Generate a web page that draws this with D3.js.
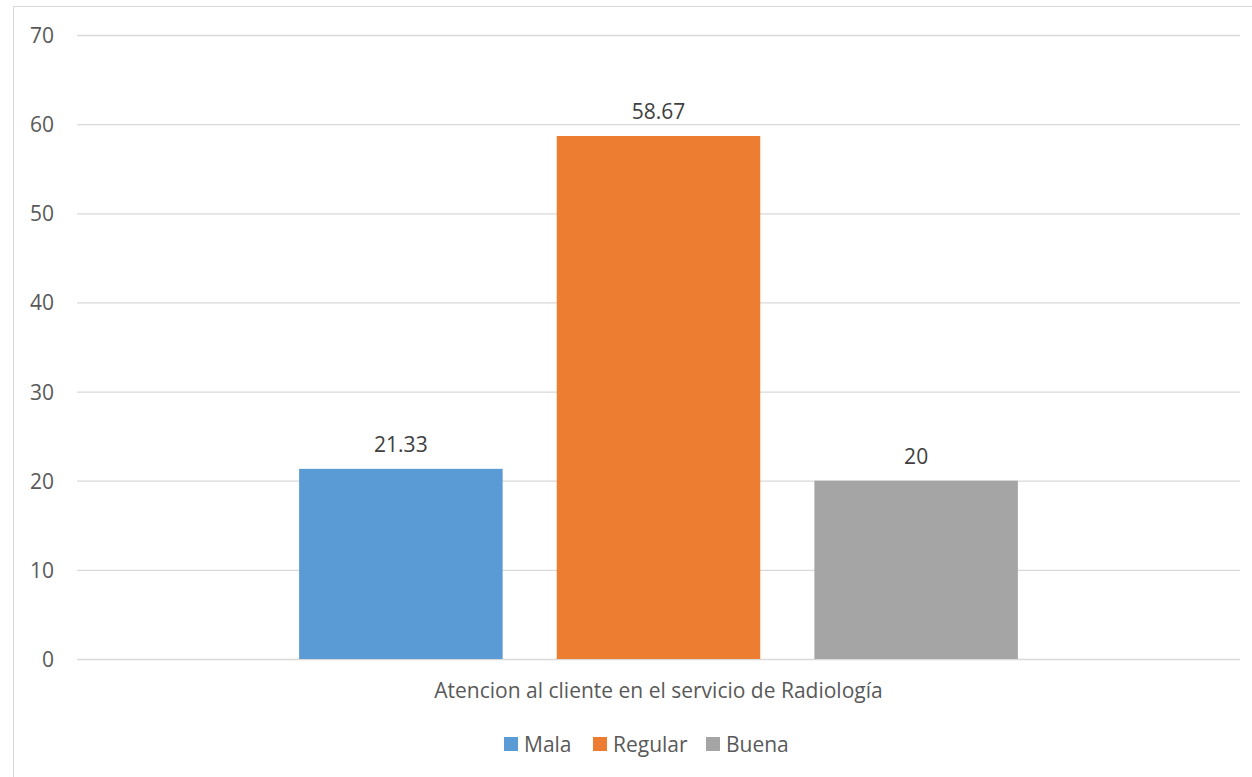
<!DOCTYPE html>
<html>
<head>
<meta charset="utf-8">
<script src="https://cdnjs.cloudflare.com/ajax/libs/d3/7.8.5/d3.min.js"></script>
<style>
  html, body { margin: 0; padding: 0; background: #fff; }
  svg { display: block; }
  text { font-family: "Open Sans", "Liberation Sans", sans-serif; }
</style>
</head>
<body>
<svg id="chart" width="1252" height="777"></svg>
<script>
// Chart data
const category = "Atencion al cliente en el servicio de Radiología";
const seriesNames = ["Mala", "Regular", "Buena"];
const seriesValues = [21.33, 58.67, 20];
const seriesLabels = ["21.33", "58.67", "20"];
const seriesColors = ["#5b9bd5", "#ed7d31", "#a5a5a5"];
const yTicks = [0, 10, 20, 30, 40, 50, 60, 70];

const svg = d3.select("#chart");
const W = 1252, H = 777;
const plot = { left: 77, right: 1240, top: 35, bottom: 659 };
const fontSize = 21;

// chart frame
svg.append("rect")
  .attr("x", 13.5).attr("y", 6.5)
  .attr("width", W).attr("height", H)
  .attr("fill", "#fff").attr("stroke", "#d9d9d9").attr("stroke-width", 1);

const y = d3.scaleLinear().domain([0, 70]).range([plot.bottom, plot.top]);

const x0 = d3.scaleBand().domain([category])
  .range([plot.left, plot.right]).paddingInner(0).paddingOuter(0.309);
const x1 = d3.scaleBand().domain(seriesNames)
  .range([0, x0.bandwidth()]).paddingInner(0.21).paddingOuter(0);

// gridlines and value axis
const yAxis = d3.axisLeft(y).tickValues(yTicks)
  .tickSize(-(plot.right - plot.left)).tickFormat(d3.format("d"));
const gy = svg.append("g")
  .attr("transform", `translate(${plot.left},0)`)
  .call(yAxis);
gy.select(".domain").remove();
gy.selectAll(".tick line").attr("stroke", "#d9d9d9").attr("stroke-width", 1.3);
gy.selectAll(".tick text")
  .attr("fill", "#595959").attr("font-size", fontSize)
  .attr("x", -23).attr("dy", "0.36em")
  .style("font-family", "'Open Sans', sans-serif");

// bars
const gBars = svg.append("g").attr("transform", `translate(${x0(category)},0)`);
gBars.selectAll("rect")
  .data(seriesNames)
  .join("rect")
  .attr("x", d => x1(d))
  .attr("width", x1.bandwidth())
  .attr("y", (d, i) => y(seriesValues[i]))
  .attr("height", (d, i) => y(0) - y(seriesValues[i]))
  .attr("fill", (d, i) => seriesColors[i]);

// value labels
gBars.selectAll("text.val")
  .data(seriesNames)
  .join("text")
  .attr("class", "val")
  .attr("x", d => x1(d) + x1.bandwidth() / 2)
  .attr("y", (d, i) => y(seriesValues[i]) - 17)
  .attr("text-anchor", "middle")
  .attr("fill", "#404040")
  .attr("font-size", fontSize)
  .text((d, i) => seriesLabels[i]);

// category axis label
svg.append("text")
  .attr("x", x0(category) + x0.bandwidth() / 2)
  .attr("y", 698)
  .attr("text-anchor", "middle")
  .attr("fill", "#595959")
  .attr("font-size", fontSize)
  .text(category);

// legend
const legend = svg.append("g");
const legendItemX = [504, 593, 706];
seriesNames.forEach((name, i) => {
  const g = legend.append("g").attr("transform", `translate(${legendItemX[i]},737)`);
  g.append("rect").attr("width", 14).attr("height", 14).attr("fill", seriesColors[i]);
  g.append("text").attr("x", 20).attr("y", 15)
    .attr("fill", "#595959").attr("font-size", fontSize).text(name);
});
</script>
</body>
</html>
